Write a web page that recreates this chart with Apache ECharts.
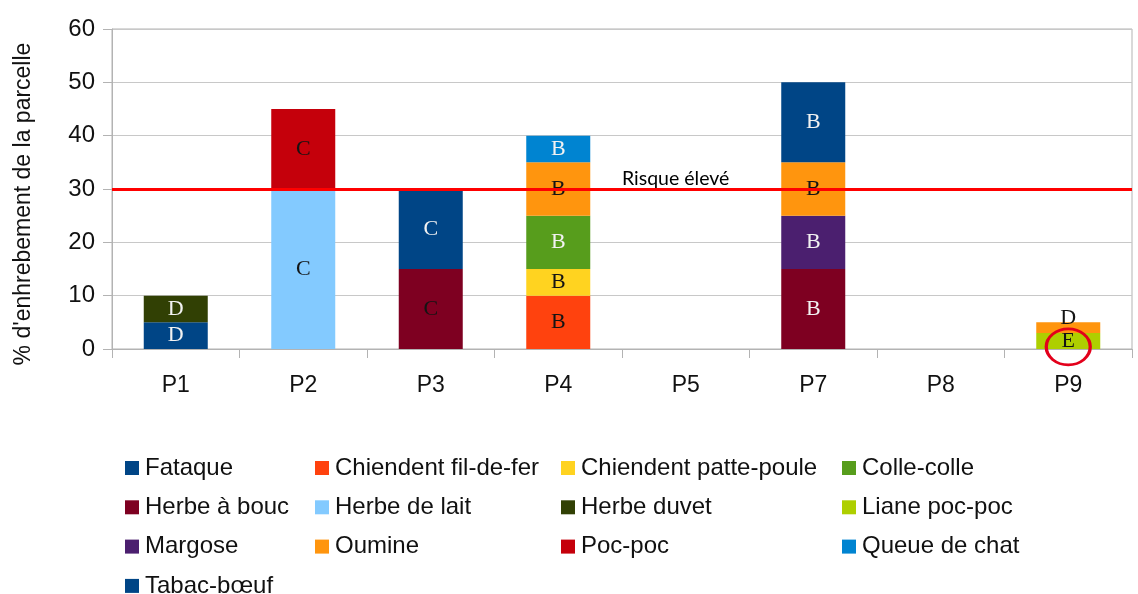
<!DOCTYPE html>
<html>
<head>
<meta charset="utf-8">
<script src="https://cdn.jsdelivr.net/npm/echarts@6/dist/echarts.min.js"></script>
<style>html,body{margin:0;padding:0;background:#fff;}#c{width:1138px;height:594px;}</style>
</head>
<body>
<div id="c"></div>
<script>
// ---- DATA ----
const categories = ['P1', 'P2', 'P3', 'P4', 'P5', 'P7', 'P8', 'P9'];
const speciesNames = ['Fataque', 'Chiendent fil-de-fer', 'Chiendent patte-poule', 'Colle-colle',
  'Herbe à bouc', 'Herbe de lait', 'Herbe duvet', 'Liane poc-poc', 'Margose', 'Oumine',
  'Poc-poc', 'Queue de chat', 'Tabac-bœuf'];
const fataque            = [5, null, null, null, null, null, null, null];
const chiendentFilDeFer  = [null, null, null, 10, null, null, null, null];
const chiendentPattePoule= [null, null, null, 5, null, null, null, null];
const colleColle         = [null, null, null, 10, null, null, null, null];
const herbeABouc         = [null, null, 15, null, null, 15, null, null];
const herbeDeLait        = [null, 30, null, null, null, null, null, null];
const herbeDuvet         = [5, null, null, null, null, null, null, null];
const lianePocPoc        = [null, null, null, null, null, null, null, 3];
const margose            = [null, null, null, null, null, 10, null, null];
const oumine             = [null, null, null, 10, null, 10, null, 2];
const pocPoc             = [null, 15, null, null, null, null, null, null];
const queueDeChat        = [null, null, null, 5, null, null, null, null];
const tabacBoeuf         = [null, null, 15, null, null, 15, null, null];
const seriesValues = [fataque, chiendentFilDeFer, chiendentPattePoule, colleColle, herbeABouc,
  herbeDeLait, herbeDuvet, lianePocPoc, margose, oumine, pocPoc, queueDeChat, tabacBoeuf];
// grade letters per series per plot
const gradeLabels = [
  ['D', null, null, null, null, null, null, null],
  [null, null, null, 'B', null, null, null, null],
  [null, null, null, 'B', null, null, null, null],
  [null, null, null, 'B', null, null, null, null],
  [null, null, 'C', null, null, 'B', null, null],
  [null, 'C', null, null, null, null, null, null],
  ['D', null, null, null, null, null, null, null],
  [null, null, null, null, null, null, null, 'E'],
  [null, null, null, null, null, 'B', null, null],
  [null, null, null, 'B', null, 'B', null, 'D'],
  [null, 'C', null, null, null, null, null, null],
  [null, null, null, 'B', null, null, null, null],
  [null, null, 'C', null, null, 'B', null, null]
];
const yTicks = [0, 10, 20, 30, 40, 50, 60];
const riskThreshold = 30;
const riskLabel = 'Risque élevé';
const yAxisTitle = "% d'enhrebement de la parcelle";
const highlightPlot = 'P9';
const highlightSeries = 'Liane poc-poc';

// ---- STYLE ----
const colors = ['#004586', '#ff420e', '#ffd320', '#579d1c', '#7e0021', '#83caff', '#314004',
  '#aecf00', '#4b1f6f', '#ff950e', '#c5000b', '#0084d1', '#004586'];
// label tone: 'w' white, 'd' dark (per series, per plot)
const labelTone = {
  'Fataque': {P1: 'w'}, 'Herbe duvet': {P1: 'w'},
  'Herbe de lait': {P2: 'd'}, 'Poc-poc': {P2: 'd'},
  'Herbe à bouc': {P3: 'd', P7: 'w'}, 'Tabac-bœuf': {P3: 'w', P7: 'w'},
  'Chiendent fil-de-fer': {P4: 'd'}, 'Chiendent patte-poule': {P4: 'd'},
  'Colle-colle': {P4: 'w'}, 'Oumine': {P4: 'd', P7: 'd', P9: 'd'},
  'Queue de chat': {P4: 'w'}, 'Margose': {P7: 'w'}, 'Liane poc-poc': {P9: 'd'}
};
const labelOffsets = {'Oumine': {P9: [0, -9]}};
const axisFont = 'Liberation Sans, Arial, sans-serif';

const series = speciesNames.map((name, si) => {
  const data = seriesValues[si].map((v, ci) => {
    if (v == null) return null;
    const cat = categories[ci];
    const tone = (labelTone[name] || {})[cat] === 'w' ? '#f2f2f2' : '#141414';
    const off = (labelOffsets[name] || {})[cat] || [0, 0];
    return {
      value: v,
      label: {
        show: !!gradeLabels[si][ci],
        formatter: gradeLabels[si][ci] || '',
        color: tone,
        offset: off
      }
    };
  });
  const s = {
    name: name,
    type: 'bar',
    stack: 'total',
    barWidth: 64,
    itemStyle: {color: colors[si]},
    label: {
      show: true, position: 'inside',
      fontFamily: 'Liberation Serif, Times New Roman, serif', fontSize: 22
    },
    emphasis: {disabled: true},
    data: data
  };
  if (si === 0) {
    s.markLine = {
      silent: true, symbol: 'none',
      lineStyle: {color: '#ff0000', width: 3, type: 'solid'},
      label: {
        show: true, position: 'insideMiddleTop', align: 'left', formatter: riskLabel,
        color: '#000', fontFamily: 'Lato, Open Sans, sans-serif', fontSize: 19.5, distance: 0
      },
      data: [{yAxis: riskThreshold}]
    };
  }
  if (name === highlightSeries) {
    s.markPoint = {
      silent: true, symbol: 'circle', symbolSize: [44, 36],
      itemStyle: {color: 'rgba(0,0,0,0)', borderColor: '#e3001b', borderWidth: 3},
      label: {show: false},
      data: [{coord: [highlightPlot, 0.4]}]
    };
  }
  return s;
});

const legendColumns = [
  ['Fataque', 'Herbe à bouc', 'Margose', 'Tabac-bœuf'],
  ['Chiendent fil-de-fer', 'Herbe de lait', 'Oumine'],
  ['Chiendent patte-poule', 'Herbe duvet', 'Poc-poc'],
  ['Colle-colle', 'Liane poc-poc', 'Queue de chat']
];
const legendLefts = [125, 315, 561, 842];
const legends = legendColumns.map((col, i) => ({
  orient: 'vertical', left: legendLefts[i], top: 456, height: 200, padding: 0,
  itemWidth: 14, itemHeight: 14, itemGap: 15.3, icon: 'rect',
  selectedMode: false,
  textStyle: {fontFamily: axisFont, fontSize: 24, color: '#111', lineHeight: 24, padding: [0, 0, 0, 1]},
  data: col
}));

const chart = echarts.init(document.getElementById('c'));
chart.setOption({
  animation: false,
  backgroundColor: '#fff',
  grid: {left: 112, right: 6, top: 29, bottom: 245, show: true, borderColor: '#b3b3b3', borderWidth: 1,
    outerBoundsMode: 'none', containLabel: false},
  legend: legends,
  xAxis: {
    type: 'category', data: categories,
    axisLine: {lineStyle: {color: '#b3b3b3'}},
    axisTick: {show: true, length: 9, lineStyle: {color: '#b3b3b3'}},
    axisLabel: {color: '#111', fontFamily: axisFont, fontSize: 23, margin: 25}
  },
  yAxis: {
    type: 'value', min: yTicks[0], max: yTicks[yTicks.length - 1], interval: 10,
    name: yAxisTitle, nameLocation: 'middle', nameGap: 77,
    nameTextStyle: {fontFamily: axisFont, fontSize: 23, color: '#111', padding: [0, 30, 0, 0]},
    axisLine: {show: true, lineStyle: {color: '#b3b3b3'}},
    axisTick: {show: true, length: 9, lineStyle: {color: '#b3b3b3'}},
    splitLine: {lineStyle: {color: '#c8c8c8'}},
    axisLabel: {color: '#111', fontFamily: axisFont, fontSize: 24, margin: 17}
  },
  series: series
});
</script>
</body>
</html>
